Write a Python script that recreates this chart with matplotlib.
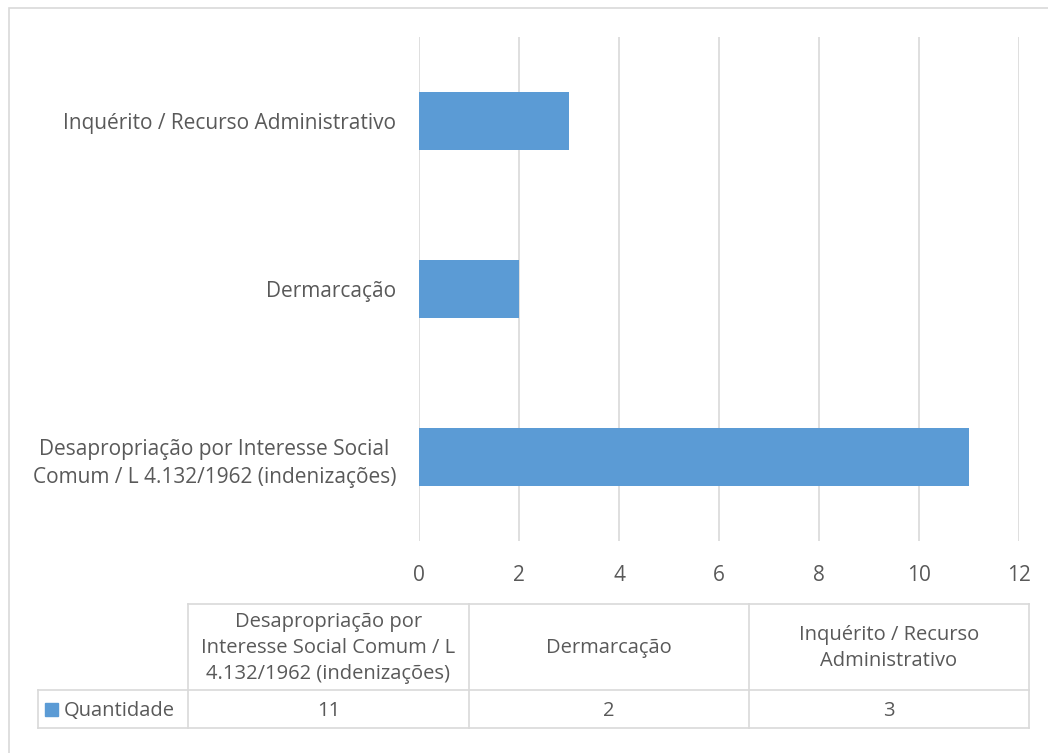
import matplotlib.pyplot as plt
from matplotlib.patches import Rectangle

categories = ["Desapropriação por Interesse Social\nComum / L 4.132/1962 (indenizações)",
              "Dermarcação",
              "Inquérito / Recurso Administrativo"]
table_headers = ["Desapropriação por\nInteresse Social Comum / L\n4.132/1962 (indenizações)",
                 "Dermarcação",
                 "Inquérito / Recurso\nAdministrativo"]
series_name = "Quantidade"
values = [11, 2, 3]
xticks = [0, 2, 4, 6, 8, 10, 12]

BAR = "#5b9bd5"
GRID = "#d9d9d9"
TXT = "#595959"
plt.rcParams['font.family'] = ['Open Sans', 'DejaVu Sans']

W, H = 1048, 753
fig = plt.figure(figsize=(W / 100, H / 100), dpi=100)

def px_axes(x0, y0, x1, y1, **kw):
    return fig.add_axes([x0 / W, 1 - y1 / H, (x1 - x0) / W, (y1 - y0) / H], **kw)

# chart area border
fig.add_artist(Rectangle((9 / W, -0.01), 1.0, 1 - 8 / H + 0.01, transform=fig.transFigure,
                         fill=False, edgecolor=GRID, linewidth=1.2))

ax = px_axes(419, 37, 1019, 541)
ypos = range(len(categories))
ax.barh(ypos, values, height=0.345, color=BAR, zorder=3)
ax.set_xlim(0, 12)
ax.set_ylim(-0.5, 2.5)
ax.set_xticks(xticks)
ax.set_xticklabels([str(t) for t in xticks])
ax.set_yticks(list(ypos))
ax.set_yticklabels(categories, ha="right", multialignment="center", linespacing=1.45)
ax.tick_params(axis="y", length=0, pad=16.5, labelsize=15, labelcolor=TXT)
ax.tick_params(axis="x", length=0, pad=17, labelsize=15, labelcolor=TXT)
ax.grid(axis="x", color=GRID, linewidth=1.2, zorder=0)
for s in ax.spines.values():
    s.set_visible(False)

# data table below the chart
tx = px_axes(0, 0, W, H)
tx.set_xlim(0, W)
tx.set_ylim(H, 0)
tx.axis("off")
cols = [188, 469, 749, 1029]
top, mid, bot = 604, 690, 728
lw = 1.2
tx.plot([cols[0], cols[-1]], [top, top], color=GRID, lw=lw)
tx.plot([38, cols[-1]], [mid, mid], color=GRID, lw=lw)
tx.plot([38, cols[-1]], [bot, bot], color=GRID, lw=lw)
tx.plot([38, 38], [mid, bot], color=GRID, lw=lw)
for c in cols:
    tx.plot([c, c], [top, bot], color=GRID, lw=lw)
for i, (hdr, v) in enumerate(zip(table_headers, values)):
    cx = (cols[i] + cols[i + 1]) / 2
    tx.text(cx, (top + mid) / 2 + 1, hdr, ha="center", va="center", fontsize=14.5,
            color=TXT, linespacing=1.42)
    tx.text(cx, (mid + bot) / 2 + 2, str(v), ha="center", va="center", fontsize=14.5, color=TXT)
tx.add_patch(Rectangle((45, 703), 13, 13, color=BAR))
tx.text(64, (mid + bot) / 2 + 2, series_name, ha="left", va="center", fontsize=14.5, color=TXT)

fig.savefig("out.png", dpi=100)
